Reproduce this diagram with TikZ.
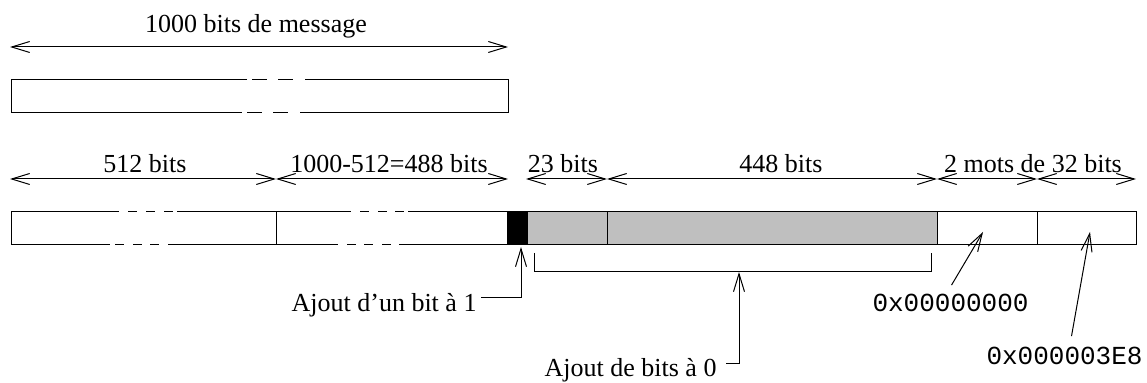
\documentclass[tikz,border=0pt]{standalone}
\usepackage{fontspec}
\setmainfont{Liberation Serif}
\setmonofont{Liberation Mono}
\usetikzlibrary{arrows.meta}
\definecolor{padgray}{RGB}{191,191,191}

\tikzset{
  dim/.style={<->},
  note/.style={->},
  hex/.style={font=\fontsize{13}{15}\selectfont\ttfamily},
}

\begin{document}
\begin{tikzpicture}[x=0.5pt, y=-0.5pt, line width=0.5pt,
    >={Straight Barb[length=9pt,width=5.5pt]},
    every node/.style={inner sep=0pt, font=\fontsize{13}{15}\selectfont}]
  \useasboundingbox (0,0) rectangle (1147,383);

  % message de depart
  \coordinate (m0) at (10,47);
  \coordinate (m1) at (508,47);
  \draw[dim] (m0) -- (m1);
  \node[anchor=base] (msg) at (256,33) {1000 bits de message};
  \draw (247,80) -| (11,113) -- (242,113);
  \draw (305,80) -| (508,113) -- (300,113);
  \foreach \x in {252,278} \draw (\x,80) -- ++(15,0);
  \foreach \x in {247,273} \draw (\x,113) -- ++(15,0);

  % cotes du message complete
  \foreach \n/\x in {d0/10,d1/276,d2/508,d3/526,d4/607,d5/937,d6/1037,d7/1136}
    \coordinate (\n) at (\x,179);
  \foreach \a/\b in {d0/d1,d1/d2,d3/d4,d4/d5,d5/d6,d6/d7}
    \draw[dim] (\a) -- (\b);
  \node[anchor=base] (l512) at (145,173) {512 bits};
  \node[anchor=base] (l488) at (389,173) {1000-512=488 bits};
  \node[anchor=base] (l23) at (563,173) {23 bits};
  \node[anchor=base] (l448) at (781,173) {448 bits};
  \node[anchor=base] (l64) at (1033,173) {2 mots de 32 bits};

  % les deux blocs du message
  \draw (119,212) -| (11,245) -- (110,245);
  \draw (177,212) -- (351,212);
  \draw (168,245) -- (338,245);
  \draw (408,212) -- (507,212);
  \draw (399,245) -- (507,245);
  \draw (276,212) -- (276,245);
  \foreach \x in {128,146,164,360,378,395} \draw (\x,212) -- ++(9,0);
  \foreach \x in {115,133,150,347,364,382} \draw (\x,245) -- ++(9,0);

  % bourrage et longueur
  \filldraw[fill=padgray] (527,212) rectangle (937,245);
  \draw (607,212) -- (607,245);
  \filldraw[fill=black] (507,212) rectangle (527,245);
  \draw (937,212) rectangle (1136,245);
  \draw (1037,212) -- (1037,245);

  % annotations
  \coordinate (bit) at (521,247);
  \coordinate (pad) at (739,272);
  \coordinate (w0) at (983,232);
  \coordinate (w1) at (1090,232);
  \node[anchor=base east] (un) at (477,312) {Ajout d'un bit à 1};
  \draw[note] ([shift={(4,-14)}]un.base east) -| (bit);
  \draw (534,253) |- (931,272) -- (931,253);
  \node[anchor=base east] (zero) at (717,377) {Ajout de bits à 0};
  \draw[note] ([shift={(9,-13)}]zero.base east) -| (pad);
  \node[hex, anchor=base west] (h0) at (872,312) {0x00000000};
  \draw[note] ([shift={(1,-9)}]h0.north) -- (w0);
  \node[hex, anchor=base west] (h1) at (986,365) {0x000003E8};
  \draw[note] ([shift={(7,-11)}]h1.north) -- (w1);
\end{tikzpicture}
\end{document}
